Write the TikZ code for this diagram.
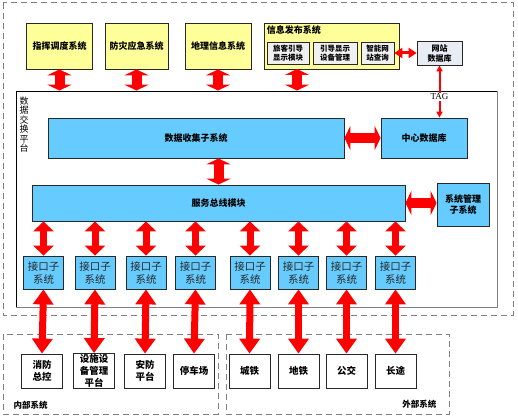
\documentclass[tikz,border=0pt]{standalone}
\usepackage{fontspec}
\setmainfont{Liberation Serif}
\newfontfamily\cjk{Noto Sans CJK SC}
\usetikzlibrary{arrows.meta,positioning}
\definecolor{platink}{RGB}{40,40,40}
\definecolor{platred}{RGB}{255,0,0}
\definecolor{platyellow}{RGB}{255,255,153}
\definecolor{platblue}{RGB}{102,204,255}
\definecolor{platgray}{RGB}{128,128,128}
\definecolor{platpale}{RGB}{232,236,244}
\begin{document}
\begin{tikzpicture}[x=1pt,y=-1pt,
  caja/.style={rectangle,draw=platink,line width=0.8pt,inner sep=1pt,align=center,font=\cjk\bfseries\fontsize{9}{11}\selectfont},
  sis/.style={caja,fill=platyellow,minimum height=46pt},
  mod/.style={caja,fill=platblue},
  subm/.style={caja,fill=gray!12,minimum height=22pt,font=\cjk\bfseries\fontsize{7.5}{9}\selectfont},
  ifz/.style={caja,fill=platblue,minimum width=40pt,minimum height=33pt,font=\cjk\fontsize{10.5}{13}\selectfont,text=platink},
  ext/.style={caja,fill=white,minimum width=41pt,minimum height=34pt,font=\cjk\bfseries\fontsize{9.5}{12}\selectfont},
  zona/.style={draw=platgray,line width=1pt,dash pattern=on 6pt off 4pt},
  fg/.style={draw=platred,line width=10pt,>={Triangle[width=24pt,length=6pt]},<->},
  fi/.style={draw=platred,line width=7pt,>={Triangle[width=20pt,length=10pt]},<->},
  fl/.style={draw=platred,line width=7pt,>={Triangle[width=20pt,length=15pt]},<->},
  fp/.style={draw=platred,line width=3pt,>={Triangle[width=10pt,length=8pt]},<->},
  ft/.style={draw=platred,line width=2pt,>={Triangle[width=6pt,length=6pt]},<->}]
\useasboundingbox (0,0) rectangle (518,417);
% Zonas punteadas y marco de la plataforma.
\draw[zona] (3,3) rectangle (513,315);
\draw[zona] (3,334) rectangle (218,414);
\draw[zona] (226,334) rectangle (449,414);
\node[draw=black,line width=0.8pt,minimum width=481pt,minimum height=216pt,inner sep=0pt] (plat) at (256.5,199) {};
\draw[platgray,line width=1.5pt] (plat.north east) -- (plat.south east) -- (plat.south west);
\node[font=\cjk\fontsize{9}{9.5}\selectfont,align=center,anchor=north] (platl) at (24,93) {数\\据\\交\\换\\平\\台};
% Sistemas de arriba.
\node[sis,minimum width=66pt] (cmd) at (59.5,46) {指挥调度系统};
\node[sis,minimum width=63pt] (emg) at (136.5,46) {防灾应急系统};
\node[sis,minimum width=66pt] (geo) at (218,46) {地理信息系统};
\node[sis,minimum width=135pt] (info) at (331.5,46) {};
\node[anchor=north west,inner sep=3pt,font=\cjk\bfseries\fontsize{9}{11}\selectfont] (infot) at (info.north west) {信息发布系统};
\node[subm,minimum width=42pt] (pas) at (288,53) {旅客引导\\显示模块};
\node[subm,minimum width=44pt] (gui) at (335,53) {引导显示\\设备管理};
\node[subm,minimum width=33pt] (web) at (377.5,53) {智能网\\站查询};
\node[caja,fill=platpale,minimum width=45pt,minimum height=24pt,font=\cjk\bfseries\fontsize{8}{10}\selectfont] (wdb) at (439.5,53) {网站\\数据库};
% Plataforma.
\node[mod,minimum width=296pt,minimum height=40pt] (col) at (196,138) {数据收集子系统};
\node[mod,minimum width=86pt,minimum height=40pt] (cdb) at (424,138) {中心数据库};
\node[mod,minimum width=373pt,minimum height=36pt] (bus) at (218.5,203) {服务总线模块};
\node[mod,minimum width=52pt,minimum height=43pt] (mgr) at (463,204.5) {系统管理\\子系统};
\node[ifz] (if1) at (43.5,272.5) {接口子\\系统}; \node[ifz] (if2) at (95,272.5) {接口子\\系统};
\node[ifz] (if3) at (146,272.5) {接口子\\系统}; \node[ifz] (if4) at (195.5,272.5) {接口子\\系统};
\node[ifz] (if5) at (250,272.5) {接口子\\系统}; \node[ifz] (if6) at (298.5,272.5) {接口子\\系统};
\node[ifz] (if7) at (346.5,272.5) {接口子\\系统}; \node[ifz] (if8) at (395.5,272.5) {接口子\\系统};
% Sistemas internos y externos.
\node[ext] (fire) at (42,371) {消防\\总控}; \node[ext] (fac) at (94,371) {设施设\\备管理\\平台};
\node[ext] (sec) at (145,371) {安防\\平台}; \node[ext] (park) at (194,371) {停车场};
\node[ext] (crl) at (249.5,371) {城铁}; \node[ext] (met) at (298.5,371) {地铁};
\node[ext] (bsx) at (346.5,371) {公交}; \node[ext] (lng) at (395.5,371) {长途};
\node[anchor=west,font=\cjk\bfseries\fontsize{8.5}{10}\selectfont] (intl) at (10,405) {内部系统};
\node[anchor=east,font=\cjk\bfseries\fontsize{8.5}{10}\selectfont] (extl) at (440,404) {外部系统};
% Flechas.
\coordinate (infop) at (297,69);
\draw[fg] (cmd.south) -- (cmd.south |- plat.north);
\draw[fg] (emg.south) -- (emg.south |- plat.north);
\draw[fg] (geo.south) -- (geo.south |- plat.north);
\draw[fg] (infop) -- (infop |- plat.north);
\draw[fp] (web.east) -- (wdb.west);
\draw[ft] (wdb.south) -- (wdb.south |- cdb.north);
\node[fill=white,inner sep=0.6pt,font=\fontsize{9}{9}\selectfont] (tag) at (439.5,97) {TAG};
\draw[fg] (col.east) -- (cdb.west);
\draw[fg] (bus.north) -- (bus.north |- col.south);
\draw[fg] (bus.east) -- (bus.east -| mgr.west);
\draw[fi] (if1.north |- bus.south) -- (if1.north); \draw[fi] (if2.north |- bus.south) -- (if2.north);
\draw[fi] (if3.north |- bus.south) -- (if3.north); \draw[fi] (if4.north |- bus.south) -- (if4.north);
\draw[fi] (if5.north |- bus.south) -- (if5.north); \draw[fi] (if6.north |- bus.south) -- (if6.north);
\draw[fi] (if7.north |- bus.south) -- (if7.north); \draw[fi] (if8.north |- bus.south) -- (if8.north);
\draw[fl] (if1.south) -- (fire.north); \draw[fl] (if2.south) -- (fac.north);
\draw[fl] (if3.south) -- (sec.north); \draw[fl] (if4.south) -- (park.north);
\draw[fl] (if5.south) -- (crl.north); \draw[fl] (if6.south) -- (met.north);
\draw[fl] (if7.south) -- (bsx.north); \draw[fl] (if8.south) -- (lng.north);
\end{tikzpicture}
\end{document}
